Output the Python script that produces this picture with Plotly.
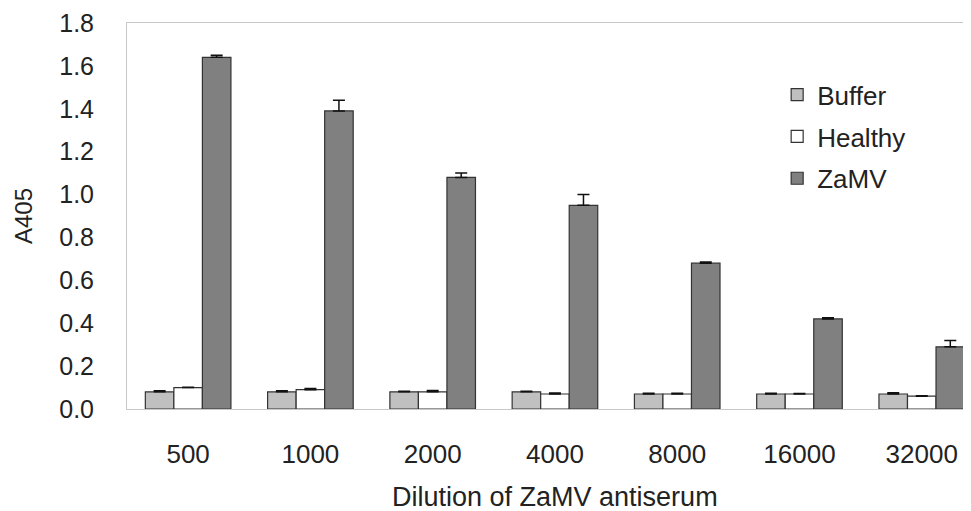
import plotly.graph_objects as go

categories = ["500", "1000", "2000", "4000", "8000", "16000", "32000"]
buffer_vals = [0.08, 0.08, 0.08, 0.08, 0.07, 0.07, 0.07]
buffer_err = [0.005, 0.005, 0.003, 0.003, 0.004, 0.003, 0.006]
healthy_vals = [0.10, 0.09, 0.08, 0.07, 0.07, 0.07, 0.06]
healthy_err = [0.002, 0.006, 0.006, 0.005, 0.004, 0.002, 0.002]
zamv_vals = [1.64, 1.39, 1.08, 0.95, 0.68, 0.42, 0.29]
zamv_err = [0.01, 0.05, 0.02, 0.05, 0.005, 0.005, 0.03]

FONT = "Liberation Sans, Arial, sans-serif"
TXT = "#222222"
series = [
    ("Buffer", buffer_vals, buffer_err, "#c0c0c0"),
    ("Healthy", healthy_vals, healthy_err, "#ffffff"),
    ("ZaMV", zamv_vals, zamv_err, "#808080"),
]

fig = go.Figure()
for name, vals, err, col in series:
    fig.add_trace(go.Bar(
        x=categories, y=vals, name=name, legendgroup=name,
        marker=dict(color=col, line=dict(color="#333333", width=1.2)),
        error_y=dict(type="data", array=err, arrayminus=[0] * len(err), symmetric=False,
                     color="#111111", thickness=1.5, width=6),
    ))

fig.update_layout(
    width=971, height=511,
    margin=dict(l=119, r=1, t=15, b=110, autoexpand=False),
    paper_bgcolor="white", plot_bgcolor="white",
    barmode="group", bargap=0.3, bargroupgap=0,
    font=dict(family=FONT, size=26, color=TXT),
    legend=dict(x=0.764, y=0.875, xanchor="left", yanchor="top",
                font=dict(family=FONT, size=26, color=TXT),
                traceorder="grouped", tracegroupgap=5,
                bgcolor="rgba(0,0,0,0)"),
    annotations=[
        dict(text="Dilution of ZaMV antiserum", xref="paper", yref="paper",
             x=0.503, y=-0.228, xanchor="center", yanchor="middle", showarrow=False,
             font=dict(family=FONT, size=27, color=TXT)),
        dict(text="A405", xref="paper", yref="paper", textangle=-90,
             x=-0.1222, y=0.5, xanchor="center", yanchor="middle", showarrow=False,
             font=dict(family=FONT, size=24, color=TXT)),
    ],
)
fig.update_xaxes(
    type="category", range=[-0.5, 6.46], automargin=False,
    showline=True, linecolor="#c8c8c8", linewidth=1, mirror=True,
    showgrid=False, ticks="", ticklabelstandoff=22,
    tickfont=dict(family=FONT, size=26, color=TXT),
)
fig.update_yaxes(
    range=[0, 1.8], tickmode="array", automargin=False,
    tickvals=[0, 0.2, 0.4, 0.6, 0.8, 1.0, 1.2, 1.4, 1.6, 1.8],
    ticktext=["0.0", "0.2", "0.4", "0.6", "0.8", "1.0", "1.2", "1.4", "1.6", "1.8"],
    ticklabeloverflow="allow",
    showline=True, linecolor="#c8c8c8", linewidth=1, mirror=True,
    showgrid=False, zeroline=False, ticks="", ticklabelstandoff=27,
    tickfont=dict(family=FONT, size=25, color=TXT),
)

fig.write_html("out.html")
